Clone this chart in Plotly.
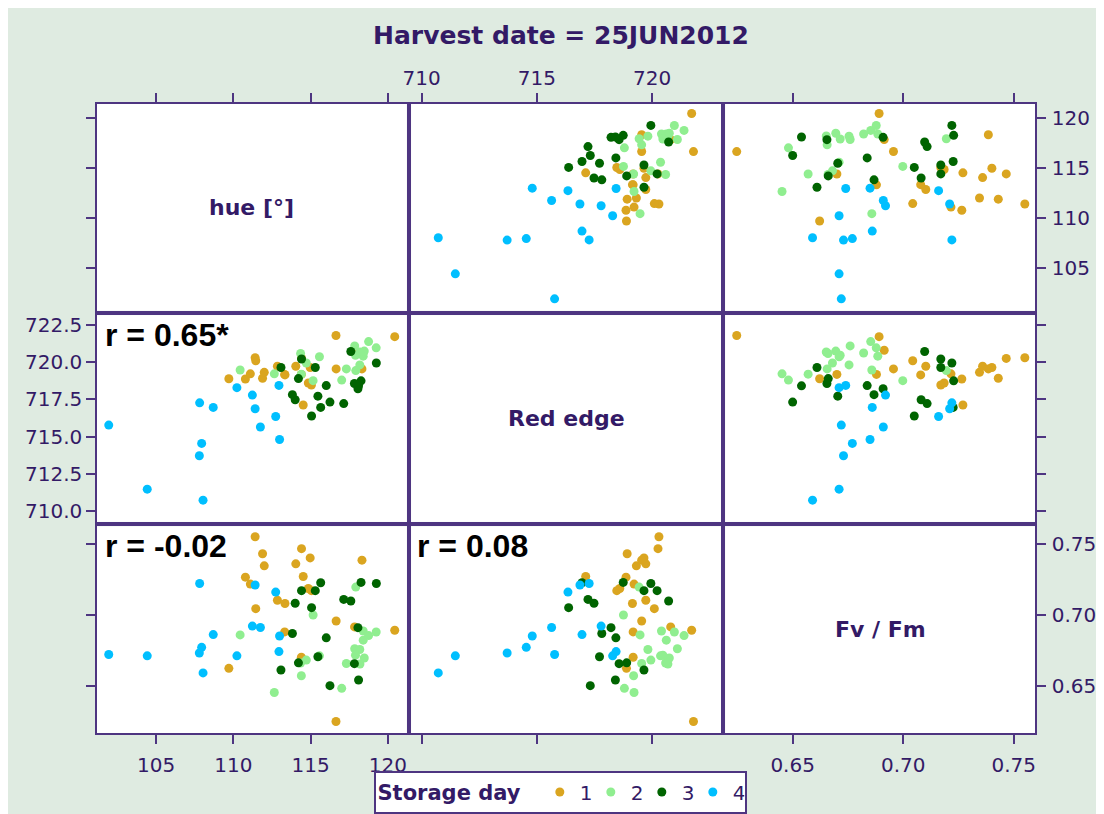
import plotly.graph_objects as go
from plotly.subplots import make_subplots

# --- data: one list per variable and storage day -------------------------
hue_day1 = [111.41, 111.89, 112.00, 110.78, 114.52, 111.10, 111.45, 109.71, 112.85, 113.34, 113.32,
            114.04, 114.41, 114.97, 115.05, 114.40, 116.65, 116.64, 117.84, 118.32, 120.44, 114.85]
red_edge_day1 = [720.30, 718.92, 719.32, 718.87, 717.12, 719.22, 720.10, 718.89, 719.73, 719.15, 719.18,
                 719.73, 720.26, 719.65, 718.47, 719.18, 719.55, 721.80, 720.81, 719.55, 721.72, 718.60]
fvfm_day1 = [0.7550, 0.7430, 0.7345, 0.7265, 0.7270, 0.7216, 0.7043, 0.6622, 0.7102, 0.7079, 0.6879,
             0.7359, 0.7466, 0.7401, 0.7170, 0.6700, 0.6956, 0.6247, 0.6914, 0.7385, 0.6891, 0.7185]

hue_day2 = [110.44, 112.65, 114.40, 114.72, 115.16, 117.01, 117.31, 117.92, 117.85, 118.18,
            118.19, 118.40, 118.40, 118.47, 118.75, 119.24, 114.35, 115.57, 117.90]
red_edge_day2 = [719.48, 719.22, 719.20, 719.95, 718.76, 718.80, 719.55, 719.44, 721.10, 719.82,
                 720.69, 720.41, 720.62, 720.75, 721.39, 720.97, 720.59, 720.37, 720.47]
fvfm_day2 = [0.6858, 0.6452, 0.6570, 0.6680, 0.6998, 0.6481, 0.6656, 0.7195, 0.6760, 0.6755,
             0.6652, 0.6885, 0.6821, 0.6695, 0.6853, 0.6878, 0.6660, 0.6710, 0.6715]

hue_day3 = [115.65, 118.26, 119.25, 114.41, 115.30, 115.06, 114.00, 113.82, 113.08,
            114.21, 115.47, 116.01, 117.14, 117.60, 118.06, 117.83, 118.10, 116.25]
red_edge_day3 = [716.96, 718.75, 719.95, 720.22, 719.65, 716.38, 717.48, 717.82, 719.65,
                 718.90, 717.72, 718.43, 717.22, 720.72, 718.22, 718.57, 718.41, 717.32]
fvfm_day3 = [0.7226, 0.7228, 0.7220, 0.7170, 0.7170, 0.7050, 0.7081, 0.6868, 0.6610,
             0.6661, 0.6704, 0.6837, 0.7108, 0.7097, 0.6909, 0.6655, 0.6540, 0.6500]

hue_day4 = [101.94, 104.43, 107.82, 108.70, 107.95, 107.80, 108.04,
            110.23, 111.23, 111.41, 111.75, 112.74, 112.99, 112.95]
red_edge_day4 = [715.77, 711.46, 717.27, 716.96, 714.54, 713.71, 710.72,
                 718.29, 717.79, 716.87, 715.64, 716.35, 714.80, 718.44]
fvfm_day4 = [0.672, 0.671, 0.722, 0.686, 0.677, 0.673, 0.659,
             0.671, 0.692, 0.721, 0.691, 0.716, 0.685, 0.674]

storage_days = ["1", "2", "3", "4"]
day_colors = ["#DAA520", "#90EE90", "#006400", "#00BFFF"]
var_labels = ["hue [°]", "Red edge", "Fv / Fm"]
corr_labels = {(2, 1): "r = 0.65*", (3, 1): "r = -0.02", (3, 2): "r = 0.08"}

groups = [
    (hue_day1, red_edge_day1, fvfm_day1),
    (hue_day2, red_edge_day2, fvfm_day2),
    (hue_day3, red_edge_day3, fvfm_day3),
    (hue_day4, red_edge_day4, fvfm_day4),
]

TXT = "#331A66"
LINE = "#4E3581"
BG = "#DFEBE1"

# axis range / ticks per variable (x use, y use)
x_ranges = [[101.18, 121.22], [709.54, 722.99], [0.6195, 0.7596]]
y_ranges = [[100.75, 121.39], [709.26, 723.17], [0.6166, 0.7624]]
tick_x = [dict(tickvals=[105, 110, 115, 120]),
          dict(tickvals=[710, 715, 720]),
          dict(tickvals=[0.65, 0.70, 0.75], tickformat=".2f")]
tick_y = [dict(tickvals=[105, 110, 115, 120]),
          dict(tickvals=[710, 712.5, 715, 717.5, 720, 722.5], tickformat=".1f"),
          dict(tickvals=[0.65, 0.70, 0.75], tickformat=".2f")]

fig = make_subplots(rows=3, cols=3, horizontal_spacing=0.0046, vertical_spacing=0.007)

for g, (cols, day, color) in enumerate(zip(groups, storage_days, day_colors)):
    first = True
    for r in range(3):
        for c in range(3):
            if r == c:
                continue
            fig.add_trace(
                go.Scatter(
                    x=cols[c], y=cols[r], mode="markers", name=day,
                    legendgroup=day, showlegend=first,
                    marker=dict(color=color, size=9, line=dict(width=0)),
                    hoverinfo="skip",
                ),
                row=r + 1, col=c + 1,
            )
            first = False

# empty traces so the diagonal label panels get drawn too
for k in range(3):
    fig.add_trace(go.Scatter(x=[], y=[], mode="markers", showlegend=False, hoverinfo="skip"),
                  row=k + 1, col=k + 1)

axis_common = dict(showline=True, mirror=True, linecolor=LINE, linewidth=1.5,
                   showgrid=False, zeroline=False, ticklen=9, tickwidth=1.5,
                   tickcolor=LINE, tickfont=dict(family="DejaVu Sans", size=20, color=TXT))

for r in range(3):
    for c in range(3):
        idx = r * 3 + c + 1
        xa = "xaxis" if idx == 1 else f"xaxis{idx}"
        ya = "yaxis" if idx == 1 else f"yaxis{idx}"
        xs = dict(axis_common, range=x_ranges[c], **tick_x[c])
        ys = dict(axis_common, range=y_ranges[r], **tick_y[r])
        if r == 0:
            xs.update(side="top", ticks="outside", showticklabels=(c == 1))
        elif r == 2:
            xs.update(side="bottom", ticks="outside", showticklabels=(c != 1), ticklabelstandoff=4)
        else:
            xs.update(ticks="", showticklabels=False)
        if c == 0:
            ys.update(side="left", ticks="outside", showticklabels=(r == 1), ticklabelstandoff=0)
        elif c == 2:
            ys.update(side="right", ticks="outside", showticklabels=(r != 1), ticklabelstandoff=2)
        else:
            ys.update(ticks="", showticklabels=False)
        fig.layout[xa].update(xs)
        fig.layout[ya].update(ys)

        xref = "x" if idx == 1 else f"x{idx}"
        yref = "y" if idx == 1 else f"y{idx}"
        if r == c:
            fig.add_annotation(
                text=f"<b>{var_labels[r]}</b>", xref=f"{xref} domain", yref=f"{yref} domain",
                x=0.5, y=0.5, showarrow=False,
                font=dict(family="DejaVu Sans", size=22, color=TXT),
            )
        elif (r + 1, c + 1) in corr_labels:
            fig.add_annotation(
                text=f"<b>{corr_labels[(r + 1, c + 1)]}</b>",
                xref=f"{xref} domain", yref=f"{yref} domain",
                x=0.02 if c == 0 else 0.012, y=0.903, xanchor="left", yanchor="middle",
                showarrow=False,
                font=dict(family="Liberation Sans, Arial", size=32, color="black"),
            )

fig.update_layout(
    width=1104, height=814,
    margin=dict(l=89, r=77, t=96, b=89, autoexpand=False),
    paper_bgcolor=BG, plot_bgcolor="white",
    title=dict(text="<b>Harvest date = 25JUN2012</b>", x=553 / 1104, xanchor="center",
               xref="container", y=1 - 27 / 814, yanchor="middle", yref="container",
               font=dict(family="DejaVu Sans", size=25, color=TXT)),
    legend=dict(
        orientation="h", xref="container", yref="container",
        x=552 / 1104, xanchor="center", y=1 - 784 / 814, yanchor="middle",
        bgcolor="white", bordercolor=LINE, borderwidth=2, itemwidth=30,
        entrywidth=6, entrywidthmode="pixels",
        title=dict(text="<b>Storage day</b>\u00a0\u00a0",
                   font=dict(family="DejaVu Sans", size=21, color=TXT)),
        font=dict(family="DejaVu Sans", size=20, color=TXT),
    ),
    showlegend=True,
)

fig.write_html("out.html")
